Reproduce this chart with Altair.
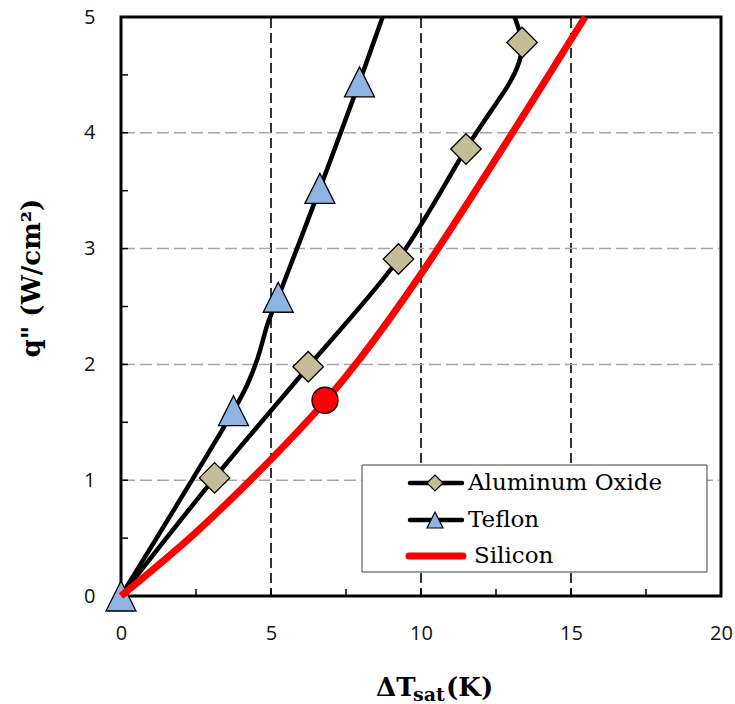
import altair as alt
import pandas as pd

materials = ["Aluminum Oxide", "Teflon", "Silicon"]

# Boiling curves: wall superheat ΔT_sat (K) vs heat flux q'' (W/cm²)
al_dt = [0.0, 3.12, 6.24, 9.25, 11.5, 12.05, 12.55, 12.95, 13.2, 13.33, 13.37, 13.12]
al_q = [0.0, 1.02, 1.98, 2.91, 3.86, 4.08, 4.27, 4.43, 4.56, 4.67, 4.78, 5.0]
tef_dt = [0.0, 3.75, 4.2, 4.55, 4.9, 5.24, 6.63, 7.95, 8.72]
tef_q = [0.0, 1.6, 1.82, 2.05, 2.36, 2.58, 3.52, 4.44, 5.0]
si_dt = [0.0, 2.5, 5.0, 6.8, 8.0, 10.0, 12.95, 15.47]
si_q = [0.0, 0.55, 1.18, 1.68, 2.06, 2.78, 3.96, 5.0]

# Marked measurement points
al_pts_dt = [3.12, 6.24, 9.25, 11.5, 13.37]
al_pts_q = [1.02, 1.98, 2.91, 3.86, 4.78]
tef_pts_dt = [0.0, 3.75, 5.24, 6.63, 7.95]
tef_pts_q = [0.0, 1.6, 2.58, 3.52, 4.44]
si_pts_dt = [6.8]
si_pts_q = [1.69]

# Axis ticks, labels and grid positions
x_labels = [0, 5, 10, 15, 20]
y_labels = [0, 1, 2, 3, 4, 5]
x_minor = [0, 2.5, 5, 7.5, 10, 12.5, 15, 17.5, 20]
y_minor = [0, 0.5, 1, 1.5, 2, 2.5, 3, 3.5, 4, 4.5, 5]
x_grid = [5, 10, 15]
y_grid = [1, 2, 3, 4]


def curve(name, xs, ys):
    return pd.DataFrame({"material": name, "dt": xs, "q": ys, "i": range(len(xs))})


TRIANGLE = "M0,-1L1,1L-1,1Z"
shape_of = {"Aluminum Oxide": "diamond", "Teflon": TRIANGLE, "Silicon": "circle"}
fill_of = {"Aluminum Oxide": "#c4bd97", "Teflon": "#8db4e2", "Silicon": "#ff0000"}
size_of = {"Aluminum Oxide": 930, "Teflon": 900, "Silicon": 680}

xs = alt.Scale(domain=[0, 20], nice=False, zero=False)
ys = alt.Scale(domain=[0, 5], nice=False, zero=False)
x_axis = alt.Axis(
    values=x_labels, grid=False, ticks=False, domain=False, labelFlush=False,
    labelFont="Open Sans", labelFontSize=20, labelColor="#111", labelPadding=27, title=None,
)
y_axis = alt.Axis(
    values=y_labels, grid=False, ticks=False, domain=False, labelFlush=False,
    labelFont="Open Sans", labelFontSize=20, labelColor="#111", labelPadding=26, title=None,
)


def X(field):
    return alt.X(field, type="quantitative", scale=xs, axis=x_axis)


def Y(field):
    return alt.Y(field, type="quantitative", scale=ys, axis=y_axis)


W, H = 600, 579

# Dashed grid lines
v_grid = alt.Chart(pd.DataFrame({"g": x_grid})).mark_rule(
    color="black", strokeWidth=1.6, strokeDash=[10, 5]
).encode(x=X("g"), y=alt.value(1), y2=alt.value(H - 1))
h_grid = alt.Chart(pd.DataFrame({"g": y_grid})).mark_rule(
    color="#a6a6a6", strokeWidth=1.5, strokeDash=[12, 5]
).encode(y=Y("g"), x=alt.value(2), x2=alt.value(W - 2))

# Inward tick marks along the bottom and left edges
x_ticks = alt.Chart(pd.DataFrame({"t": x_minor})).mark_rule(color="black", strokeWidth=1.5).encode(
    x=X("t"), y=alt.value(H), y2=alt.value(H - 7)
)
y_ticks = alt.Chart(pd.DataFrame({"t": y_minor})).mark_rule(color="black", strokeWidth=1.5).encode(
    y=Y("t"), x=alt.value(0), x2=alt.value(7)
)

one = pd.DataFrame({"k": [0]})
frame = alt.Chart(one).mark_rect(filled=False, stroke="black", strokeWidth=3).encode(
    x=alt.value(0), x2=alt.value(W), y=alt.value(0), y2=alt.value(H)
)


def series_layers(name, line_dt, line_q, pts_dt, pts_q, color, width):
    line = alt.Chart(curve(name, line_dt, line_q)).mark_line(
        color=color, strokeWidth=width, interpolate="catmull-rom"
    ).encode(x=X("dt"), y=Y("q"), order="i:Q")
    pts = alt.Chart(curve(name, pts_dt, pts_q)).mark_point(
        filled=True, fill=fill_of[name], stroke="black", strokeWidth=1.3, opacity=1,
        shape=shape_of[name], size=size_of[name],
    ).encode(x=X("dt"), y=Y("q"))
    return [line, pts]


data_layers = (
    series_layers("Aluminum Oxide", al_dt, al_q, al_pts_dt, al_pts_q, "black", 4.5)
    + series_layers("Teflon", tef_dt, tef_q, tef_pts_dt, tef_pts_q, "black", 4.5)
    + series_layers("Silicon", si_dt, si_q, si_pts_dt, si_pts_q, "#ff0000", 7)
)

# Legend box and entries
legend_box = alt.Chart(one).mark_rect(fill="white", stroke="#404040", strokeWidth=1).encode(
    x=alt.value(241), x2=alt.value(586), y=alt.value(448), y2=alt.value(555)
)

legend_layers = []
row_y = [466, 503, 539]
for idx, m in enumerate(materials):
    d = pd.DataFrame({"material": [m]})
    yv = row_y[idx]
    if m == "Silicon":
        legend_layers.append(alt.Chart(d).mark_rule(color="#ff0000", strokeWidth=7, strokeCap="round").encode(
            x=alt.value(288), x2=alt.value(342), y=alt.value(yv)))
        tx = 353
    else:
        legend_layers.append(alt.Chart(d).mark_rule(color="black", strokeWidth=4.5, strokeCap="round").encode(
            x=alt.value(289), x2=alt.value(341), y=alt.value(yv)))
        legend_layers.append(alt.Chart(d).mark_point(
            filled=True, fill=fill_of[m], stroke="black", strokeWidth=1.2, opacity=1,
            shape=shape_of[m], size=256,
        ).encode(x=alt.value(314), y=alt.value(yv)))
        tx = 347
    legend_layers.append(alt.Chart(d).mark_text(
        align="left", baseline="middle", font="DejaVu Serif", fontSize=23, color="black"
    ).encode(x=alt.value(tx), y=alt.value(yv), text="material:N"))

# Axis titles
x_title_parts = ["ΔT", "sat", "(K)"]
x_title_x = [255, 292, 325]
x_title_y = [679, 684, 679]
x_title_size = [26, 19, 26]
title_layers = []
for txt, px, py, fs in zip(x_title_parts, x_title_x, x_title_y, x_title_size):
    title_layers.append(alt.Chart(pd.DataFrame({"t": [txt]})).mark_text(
        align="left", baseline="alphabetic", font="DejaVu Serif", fontWeight="bold",
        fontSize=fs, color="black"
    ).encode(x=alt.value(px), y=alt.value(py), text="t:N"))

y_title = alt.Chart(pd.DataFrame({"t": ["q\" (W/cm²)"]})).mark_text(
    align="center", baseline="alphabetic", angle=270, font="DejaVu Serif",
    fontWeight="bold", fontSize=26, color="black"
).encode(x=alt.value(-81), y=alt.value(261), text="t:N")

chart = alt.layer(
    v_grid, h_grid, x_ticks, y_ticks, frame, *data_layers, legend_box,
    *legend_layers, *title_layers, y_title
).properties(
    width=W, height=H,
    autosize=alt.AutoSizeParams(type="none"),
    padding={"left": 121, "top": 17, "right": 14, "bottom": 108},
    background="white",
).configure_view(stroke=None)

chart.save("out.html", embed_options={"renderer": "svg", "actions": False})
